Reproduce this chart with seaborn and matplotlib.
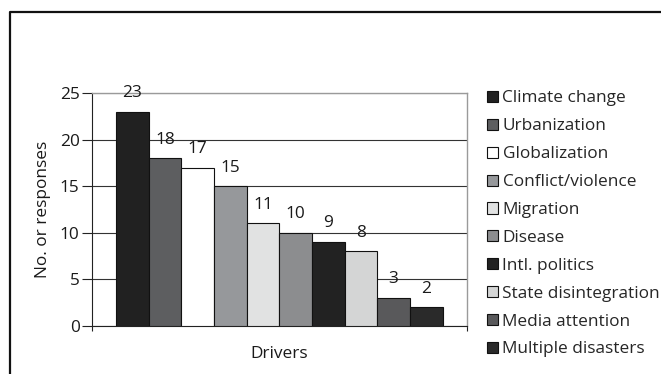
import matplotlib
matplotlib.use("Agg")
import matplotlib.pyplot as plt
from matplotlib.lines import Line2D
import seaborn as sns
import pandas as pd

drivers = ["Climate change", "Urbanization", "Globalization", "Conflict/violence",
           "Migration", "Disease", "Intl. politics", "State disintegration",
           "Media attention", "Multiple disasters"]
responses = [23, 18, 17, 15, 11, 10, 9, 8, 3, 2]
fills = ["#212121", "#5d5e60", "#ffffff", "#96989b", "#e1e2e2",
         "#8c8d8f", "#222222", "#d4d5d5", "#59595b", "#2a2a2a"]
y_ticks = [0, 5, 10, 15, 20, 25]

sns.set_theme(style="white")
plt.rcParams["font.family"] = ["Open Sans", "DejaVu Sans"]
FS = 12.4
plt.rcParams["font.size"] = FS

df = pd.DataFrame({"group": ["Drivers"] * len(drivers),
                   "driver": drivers, "count": responses})

W, H = 661, 374
fig = plt.figure(figsize=(W / 100, H / 100), dpi=100)
ax = fig.add_axes([91.7 / W, 1 - 325.5 / H, 375 / W, 232.2 / H])

sns.barplot(data=df, x="group", y="count", hue="driver", hue_order=drivers,
            palette=dict(zip(drivers, fills)), saturation=1, width=0.871,
            edgecolor="#111111", linewidth=0.8, ax=ax, zorder=3)

for cont in ax.containers:
    ax.bar_label(cont, fmt="%d", padding=7.5, fontsize=FS, color="#1a1a1a", zorder=4)

ax.set_xlim(-0.5, 0.5)
ax.set_ylim(0, 25)
ax.set_yticks(y_ticks)
ax.set_xticks([-0.5, 0.5])
ax.set_xticklabels(["", ""])
ax.tick_params(axis="y", direction="out", length=7.2, width=0.8, pad=1.5,
               color="#222222", left=True, labelsize=FS, labelcolor="#1a1a1a")
ax.tick_params(axis="x", direction="out", length=3.6, width=0.8, bottom=True,
               color="#222222")

ax.set_axisbelow(True)
ax.yaxis.grid(True, color="#333333", linewidth=0.8)
ax.xaxis.grid(False)
ax.get_ygridlines()[-1].set_color("#9a9a9a")

for side in ["top", "right"]:
    ax.spines[side].set_color("#9a9a9a")
    ax.spines[side].set_linewidth(1.0)
for side in ["left", "bottom"]:
    ax.spines[side].set_color("#222222")
    ax.spines[side].set_linewidth(0.8)

ax.set_ylabel("No. or responses", fontsize=FS, color="#1a1a1a")
ax.yaxis.set_label_coords(-0.108, 0.5)
ax.set_xlabel("Drivers", fontsize=FS, color="#1a1a1a", va="top")
ax.xaxis.set_label_coords(0.5, -0.088)

handles, labels = ax.get_legend_handles_labels()
ax.legend(handles, labels, loc="upper left",
          bbox_to_anchor=(487 / W, 1 - 90.5 / H), bbox_transform=fig.transFigure,
          frameon=False, fontsize=FS, handlelength=0.62, handleheight=0.62,
          handletextpad=0.28, labelspacing=0.69, borderpad=0, borderaxespad=0)

# outer frame line along the left and top
fx, fy = 9.5 / W, 1 - 11.5 / H
fig.add_artist(Line2D([fx, fx, 1.0], [0.0, fy, fy], transform=fig.transFigure,
                      color="#111111", linewidth=1.6))

fig.savefig("out.png", dpi=100)
